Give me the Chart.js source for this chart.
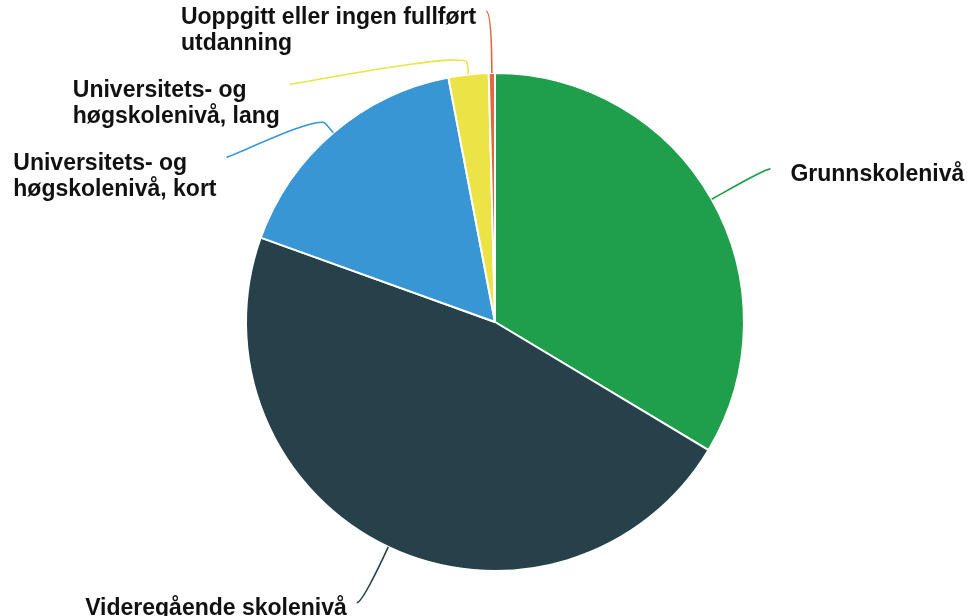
<!DOCTYPE html>
<html>
<head>
<meta charset="utf-8">
<script src="https://cdn.jsdelivr.net/npm/chart.js@4/dist/chart.umd.min.js"></script>
<style>
  html, body { margin: 0; padding: 0; background: #fff; }
  canvas { display: block; }
</style>
</head>
<body>
<canvas id="pieCanvas" width="969" height="616"></canvas>
<script>
// data (share in percent)
var categories = [
    "Grunnskolenivå",
    "Videregående skolenivå",
    "Universitets- og høgskolenivå, kort",
    "Universitets- og høgskolenivå, lang",
    "Uoppgitt eller ingen fullført utdanning"
];
var shares = [33.6, 46.9, 16.5, 2.6, 0.4];
var sliceColors = ["#1f9e4b", "#27414a", "#3796d3", "#ece347", "#e0693d"];

/*
 * Draws the labels outside the pie with soft connector lines,
 * pushing crowded labels apart on each side.
 */
var outsideLabels = {
    id: "outsideLabels",
    afterDatasetsDraw: function(chart, args, opts)
    {
        var ctx = chart.ctx;
        var meta = chart.getDatasetMeta(0);
        var labels = chart.data.labels;
        var lineHeight = opts.lineHeight;

        ctx.save();
        ctx.font = opts.font;

        var items = meta.data.map(function(arc, i) {
            var p = arc.getProps(["x", "y", "startAngle", "endAngle", "outerRadius"], true);
            var mid = (p.startAngle + p.endAngle) / 2;
            var R = p.outerRadius * opts.distance;
            // word wrap
            var words = labels[i].split(" ");
            var lines = [];
            var cur = "";
            words.forEach(function(w) {
                var test = cur ? cur + " " + w : w;
                if (cur && ctx.measureText(test).width > opts.wrapWidth) {
                    lines.push(cur);
                    cur = w;
                } else {
                    cur = test;
                }
            });
            lines.push(cur);
            var boxW = Math.max.apply(null, lines.map(function(l) { return ctx.measureText(l).width; }));
            return {
                i: i, cx: p.x, cy: p.y, r: p.outerRadius, R: R, mid: mid,
                right: Math.cos(mid) >= 0,
                y: p.y + R * Math.sin(mid),
                lines: lines, boxW: boxW
            };
        });

        [true, false].forEach(function(side) {
            var group = items.filter(function(it) { return it.right === side; });
            group.sort(function(a, b) { return a.y - b.y; });
            var minY = opts.top;
            group.forEach(function(it) {
                if (it.y < minY) it.y = minY;
                minY = it.y + it.lines.length * lineHeight + opts.gap;
            });
        });

        items.forEach(function(it) {
            var dy = it.y - it.cy;
            var dx = Math.sqrt(Math.max(0, it.R * it.R - dy * dy));
            var x = it.right ? it.cx + dx : it.cx - dx;
            var y = it.y;
            var cos = Math.cos(it.mid), sin = Math.sin(it.mid);
            var ex = it.cx + it.r * cos, ey = it.cy + it.r * sin;
            var bx = it.cx + (it.r + opts.breakAt) * cos, by = it.cy + (it.r + opts.breakAt) * sin;

            ctx.beginPath();
            ctx.moveTo(ex, ey);
            ctx.lineTo(bx, by);
            ctx.bezierCurveTo(2 * bx - ex, 2 * by - ey, x, y, x + (it.right ? 5 : -5), y);
            ctx.strokeStyle = sliceColors[it.i];
            ctx.lineWidth = 1.6;
            ctx.stroke();

            // text box aligned to the connector, lines left-aligned inside it
            ctx.fillStyle = opts.color;
            ctx.textBaseline = "middle";
            ctx.textAlign = "left";
            var tx = it.right ? x + opts.padRight : x - opts.padLeft - it.boxW;
            it.lines.forEach(function(line, k) {
                ctx.fillText(line, tx, y + opts.shift + k * lineHeight);
            });
        });
        ctx.restore();
    }
};

var ctx = document.getElementById("pieCanvas").getContext("2d");

var myNewChart = new Chart(ctx, {
    type: "pie",
    data: {
        labels: categories,
        datasets: [
            {
                data: shares,
                backgroundColor: sliceColors,
                borderColor: "#ffffff",
                borderWidth: 2
            }
        ]
    },
    options: {
        responsive: false,
        animation: false,
        layout: {
            padding: { top: 72, bottom: 44, left: 245, right: 224 }
        },
        plugins: {
            legend: { display: false },
            tooltip: { enabled: false },
            outsideLabels: {
                font: "bold 23px 'Liberation Sans', Arial, sans-serif",
                color: "#111111",
                lineHeight: 26,
                wrapWidth: 300,
                distance: 1.248,
                breakAt: 12,
                top: 10,
                gap: 21,
                shift: 6,
                padLeft: 15,
                padRight: 25
            }
        }
    },
    plugins: [outsideLabels]
});
</script>
</body>
</html>
